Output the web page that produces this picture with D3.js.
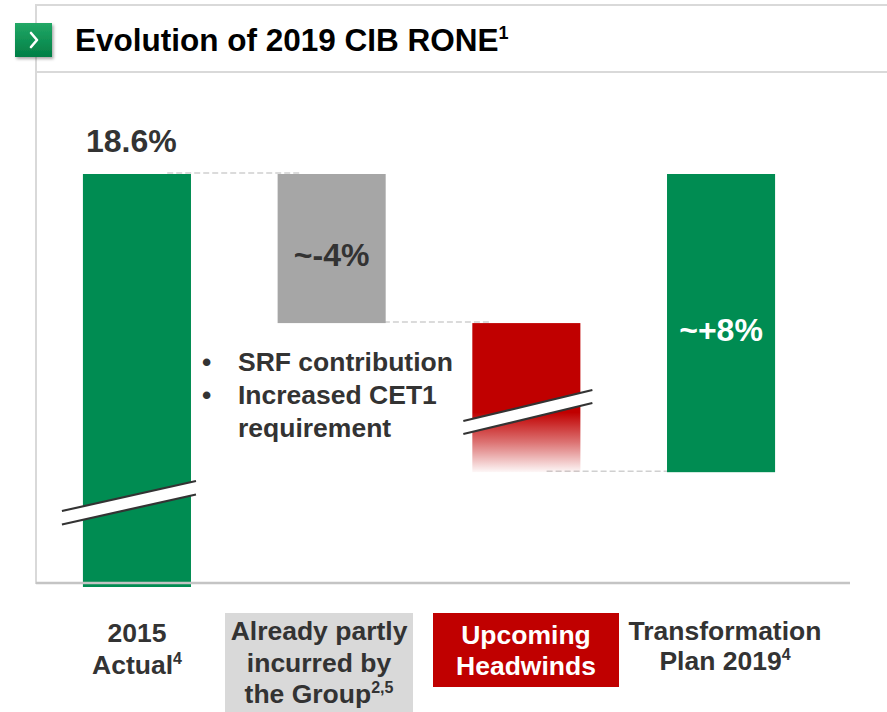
<!DOCTYPE html>
<html>
<head>
<meta charset="utf-8">
<script src="https://cdn.jsdelivr.net/npm/d3@7"></script>
<style>
  body { margin: 0; background: #ffffff; }
  svg { display: block; font-family: "Liberation Sans", Arial, Helvetica, sans-serif; }
</style>
</head>
<body>
<svg id="chart" width="887" height="712"></svg>
<script>
// ---- data ----
const categories = ["2015 Actual", "Already partly incurred by the Group", "Upcoming Headwinds", "Transformation Plan 2019"];
const startValue = 0;                 // RONE bars are built up from zero
const steps = [18.6, -4, -4, 8];      // waterfall steps, in % RONE
const valueLabels = ["18.6%", "~-4%", "", "~+8%"];
const categoryLines = [
  [["2015"], ["Actual", "4"]],
  [["Already partly"], ["incurred by"], ["the Group", "2,5"]],
  [["Upcoming"], ["Headwinds"]],
  [["Transformation"], ["Plan 2019", "4"]]
];
const bulletLines = [
  { text: "SRF contribution", bullet: true },
  { text: "Increased CET1", bullet: true },
  { text: "requirement", bullet: false }
];
const titleText = "Evolution of 2019 CIB RONE";
const titleNote = "1";

// ---- styles ----
const barColors = ["#008C52", "#A6A6A6", "#C00000", "#008C52"];
const labelFill = ["none", "#D9D9D9", "#C00000", "none"];
const labelColor = ["#333333", "#333333", "#ffffff", "#333333"];
const textDark = "#333333";

// waterfall segments
let running = startValue;
const bars = steps.map((s, i) => {
  const from = running;
  const to = running + s;
  running = to;
  return { cat: categories[i], from, to, i };
});

const svg = d3.select("#chart");

// scales: broken value axis (the lower part of the range is cut off)
const x = d3.scaleBand().domain(categories)
  .range([39.6, 818.4]).paddingInner(0.445).paddingOuter(0.2225);
const y = d3.scaleLinear().domain([7.6, 18.6]).range([584, 174]).clamp(true);
const bw = x.bandwidth();

// ---- title panel ----
const frame = "#D9D9D9";
svg.append("rect").attr("x", 36).attr("y", 5).attr("width", 860).attr("height", 67)
  .attr("fill", "none").attr("stroke", frame).attr("stroke-width", 2);
svg.append("line").attr("x1", 36).attr("x2", 36).attr("y1", 72).attr("y2", 584)
  .attr("stroke", frame).attr("stroke-width", 2);

const defs = svg.append("defs");
const cg = defs.append("linearGradient").attr("id", "chev").attr("x1", 0).attr("y1", 0).attr("x2", 0).attr("y2", 1);
cg.append("stop").attr("offset", 0).attr("stop-color", "#22A866");
cg.append("stop").attr("offset", 1).attr("stop-color", "#007E45");
const sh = defs.append("filter").attr("id", "shadow").attr("x", -0.3).attr("y", -0.3).attr("width", 1.6).attr("height", 1.6);
sh.append("feDropShadow").attr("dx", 1.5).attr("dy", 2).attr("stdDeviation", 1.5).attr("flood-color", "#000").attr("flood-opacity", 0.35);

svg.append("rect").attr("x", 15).attr("y", 23).attr("width", 37).attr("height", 34)
  .attr("fill", "url(#chev)").attr("filter", "url(#shadow)");
svg.append("path").attr("d", "M31,33 L37,40 L31,47")
  .attr("fill", "none").attr("stroke", "#fff").attr("stroke-width", 2.6).attr("stroke-linecap", "round").attr("stroke-linejoin", "round");

const title = svg.append("text").attr("x", 75).attr("y", 51)
  .attr("font-size", 31.5).attr("font-weight", "bold").attr("fill", "#000");
title.append("tspan").text(titleText);
title.append("tspan").attr("font-size", 18).attr("dy", -12).text(titleNote);

// ---- connectors (dashed, drawn behind bars) ----
const conn = svg.append("g");
bars.slice(0, -1).forEach((b, i) => {
  const next = bars[i + 1];
  conn.append("line")
    .attr("x1", x(b.cat) + bw * 0.78 - i * 5)
    .attr("x2", x(next.cat) + bw * 0.2 - i * 5)
    .attr("y1", y(b.to) - 1).attr("y2", y(b.to) - 1)
    .attr("stroke", "#D0D0D0").attr("stroke-width", 1.5).attr("stroke-dasharray", "6,3");
});

// fade for the truncated headwinds bar
const fade = defs.append("linearGradient").attr("id", "fade").attr("x1", 0).attr("y1", 0).attr("x2", 0).attr("y2", 1);
fade.append("stop").attr("offset", 0.6).attr("stop-color", barColors[2]).attr("stop-opacity", 1);
fade.append("stop").attr("offset", 0.8).attr("stop-color", barColors[2]).attr("stop-opacity", 0.55);
fade.append("stop").attr("offset", 1).attr("stop-color", barColors[2]).attr("stop-opacity", 0.03);

// ---- bars ----
svg.append("g").selectAll("rect").data(bars).join("rect")
  .attr("x", d => x(d.cat))
  .attr("width", bw)
  .attr("y", d => y(Math.max(d.from, d.to)))
  .attr("height", d => y(Math.min(d.from, d.to)) - y(Math.max(d.from, d.to)) + (d.from === startValue ? 3 : 0))
  .attr("fill", d => d.i === 2 ? "url(#fade)" : barColors[d.i]);

// baseline
svg.append("line").attr("x1", 36).attr("x2", 850).attr("y1", 583).attr("y2", 583)
  .attr("stroke", "#C4C4C4").attr("stroke-width", 2.5);

// ---- axis-break marks ----
function breakMark(x1, x2, yLeft, yRight, gap) {
  const g = svg.append("g");
  g.append("path")
    .attr("d", `M${x1},${yLeft} L${x2},${yRight} L${x2},${yRight + gap} L${x1},${yLeft + gap} Z`)
    .attr("fill", "#fff");
  [0, gap].forEach(o => g.append("line")
    .attr("x1", x1).attr("y1", yLeft + o).attr("x2", x2).attr("y2", yRight + o)
    .attr("stroke", "#333").attr("stroke-width", 2.2));
}
breakMark(x(categories[0]) - 21, x(categories[0]) + bw + 5, 511, 481, 13.5);
breakMark(x(categories[2]) - 9, x(categories[2]) + bw + 12, 421, 390, 13);

// ---- value labels ----
svg.append("text").attr("x", x(categories[0]) + 3).attr("y", y(bars[0].to) - 22)
  .attr("font-size", 32).attr("font-weight", "bold").attr("fill", textDark).text(valueLabels[0]);
[1, 3].forEach(i => {
  const b = bars[i];
  const mid = (y(b.from) + y(b.to)) / 2;
  svg.append("text").attr("x", x(b.cat) + bw / 2).attr("y", mid + 17.5)
    .attr("text-anchor", "middle").attr("font-size", 32).attr("font-weight", "bold")
    .attr("fill", i === 3 ? "#fff" : textDark).text(valueLabels[i]);
});

// ---- bullet notes ----
const notes = svg.append("g").attr("font-size", 26.5).attr("font-weight", "bold").attr("fill", textDark);
bulletLines.forEach((l, k) => {
  const yy = 371 + k * 33;
  if (l.bullet) notes.append("text").attr("x", 202).attr("y", yy).text("•");
  notes.append("text").attr("x", 238).attr("y", yy).text(l.text);
});

// ---- category labels ----
const boxes = [null, { x0: 225, x1: 413, y0: 613, y1: 712 }, { x0: 433, x1: 619, y0: 613, y1: 687 }, null];
const firstBaseline = [642, 640, 644, 640];
const lineStep = [31.5, 31.5, 31, 30];
const textCenter = [137, 319, 526, 725];
categories.forEach((c, i) => {
  const g = svg.append("g");
  const bx = boxes[i];
  if (bx) g.append("rect").attr("x", bx.x0).attr("y", bx.y0)
    .attr("width", bx.x1 - bx.x0).attr("height", bx.y1 - bx.y0).attr("fill", labelFill[i]);
  categoryLines[i].forEach((ln, k) => {
    const t = g.append("text").attr("x", textCenter[i]).attr("y", firstBaseline[i] + k * lineStep[i])
      .attr("text-anchor", "middle").attr("font-size", 26.5).attr("font-weight", "bold")
      .attr("fill", labelColor[i]);
    t.append("tspan").text(ln[0]);
    if (ln[1]) t.append("tspan").attr("font-size", 16).attr("dy", -10).text(ln[1]);
  });
});
</script>
</body>
</html>
